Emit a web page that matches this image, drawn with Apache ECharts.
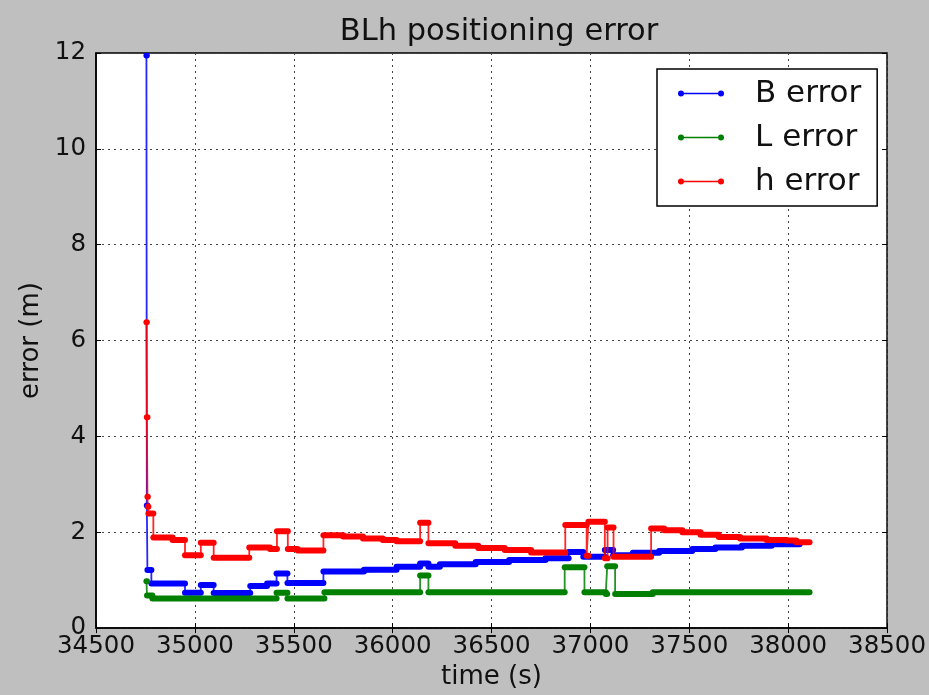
<!DOCTYPE html>
<html>
<head>
<meta charset="utf-8">
<script src="https://cdn.jsdelivr.net/npm/echarts@6/dist/echarts.min.js"></script>
<style>
html,body{margin:0;padding:0;background:#bfbfbf;}
#chart{width:929px;height:695px;}
</style>
</head>
<body>
<div id="chart"></div>
<script>
// ---- data: [time (s), error (m)] breakpoints; each value holds until the next time ----
const bError = [
  [34755, 11.95], [34757, 2.56], [34760, 1.21], [34780, 0.93], [34950, 0.74],
  [35030, 0.90], [35095, 0.73], [35280, 0.88], [35365, 0.93], [35413, 1.14],
  [35468, 0.94], [35650, 1.18], [35855, 1.22], [36020, 1.28], [36139, 1.35],
  [36181, 1.28], [36239, 1.33], [36420, 1.38], [36589, 1.42], [36773, 1.46],
  [36890, 1.59], [36964, 1.49], [37073, 1.63], [37115, 1.52], [37215, 1.57],
  [37348, 1.61], [37515, 1.65], [37632, 1.68], [37766, 1.72], [37916, 1.75],
  [38058, 1.75]
];
const lError = [
  [34755, 0.98], [34758, 0.68], [34785, 0.62], [35413, 0.74], [35468, 0.62],
  [35655, 0.75], [36139, 1.10], [36181, 0.75], [36870, 1.27], [36970, 0.75],
  [37078, 0.71], [37085, 1.29], [37125, 0.71], [37315, 0.75], [38108, 0.75]
];
const hError = [
  [34755, 6.38], [34757, 4.40], [34760, 2.74], [34762, 2.53], [34765, 2.39],
  [34790, 1.89], [34887, 1.84], [34950, 1.52], [35030, 1.78], [35095, 1.47],
  [35275, 1.68], [35380, 1.65], [35415, 2.02], [35470, 1.65], [35520, 1.62],
  [35650, 1.94], [35750, 1.91], [35850, 1.87], [35950, 1.84], [36020, 1.81],
  [36139, 2.20], [36181, 1.77], [36317, 1.72], [36433, 1.67], [36567, 1.63],
  [36700, 1.58], [36873, 2.15], [36981, 1.51], [36990, 2.22], [37073, 1.46],
  [37087, 2.10], [37117, 1.49], [37307, 2.08], [37373, 2.04], [37465, 2.00],
  [37557, 1.95], [37649, 1.90], [37757, 1.87], [37891, 1.84], [37991, 1.83],
  [38041, 1.79], [38108, 1.79]
];
const seriesNames = ['B error', 'L error', 'h error'];
const seriesColors = ['#0000ff', '#008000', '#ff0000'];
const xTicks = {min: 34500, max: 38500, interval: 500};
const yTicks = {min: 0, max: 12, interval: 2};

// plateaus [t0, t1, value] derived from breakpoints
function plateaus(arr) {
  const out = [];
  for (let i = 0; i < arr.length - 1; i++) out.push([arr[i][0], arr[i + 1][0], arr[i][1]]);
  return out;
}

const allData = [bError, lError, hError];
const FONT = 'DejaVu Sans';
const TXT = '#111';
const chart = echarts.init(document.getElementById('chart'), null, {renderer: 'canvas'});

const series = [];
allData.forEach((d, i) => {
  series.push({
    name: seriesNames[i],
    type: 'line',
    step: 'end',
    data: d,
    showSymbol: false,
    symbol: 'none',
    lineStyle: {color: seriesColors[i], width: 1.8, opacity: 0.85},
    itemStyle: {color: seriesColors[i]},
    z: 2 + i * 2,
    clip: true,
    animation: false
  });
  const col = seriesColors[i];
  series.push({
    name: seriesNames[i] + ' pts',
    type: 'custom',
    data: plateaus(d),
    encode: {x: [0, 1], y: 2},
    clip: true,
    z: 3 + i * 2,
    animation: false,
    renderItem: function (params, api) {
      const p0 = api.coord([api.value(0), api.value(2)]);
      const p1 = api.coord([api.value(1), api.value(2)]);
      return {
        type: 'rect',
        shape: {x: p0[0] - 3, y: p0[1] - 3, width: p1[0] - p0[0] + 6, height: 6, r: 3},
        style: {fill: col}
      };
    }
  });
});

const legendIcon = 'path://M0,4.2 L46,4.2 L46,5.8 L0,5.8 Z M3,2 A3,3 0 1,1 3,8 A3,3 0 1,1 3,2 Z M43,2 A3,3 0 1,1 43,8 A3,3 0 1,1 43,2 Z';

const option = {
  backgroundColor: '#bfbfbf',
  animation: false,
  title: {
    text: 'BLh positioning error',
    left: 494,
    textAlign: 'center',
    top: 12,
    textStyle: {fontFamily: FONT, fontSize: 30.5, fontWeight: 'normal', color: TXT}
  },
  legend: {
    data: seriesNames.map(n => ({name: n, icon: legendIcon})),
    orient: 'vertical',
    left: 657,
    top: 69,
    width: 223,
    padding: [9, 16, 9, 21],
    itemGap: 13,
    itemWidth: 46,
    itemHeight: 6,
    backgroundColor: '#ffffff',
    borderColor: '#000000',
    borderWidth: 1.5,
    borderRadius: 0,
    textStyle: {fontFamily: FONT, fontSize: 31, color: TXT, lineHeight: 31, padding: [0, 0, 0, 26]}
  },
  grid: {
    left: 96, right: 34, top: 53, bottom: 65,
    show: true, backgroundColor: '#ffffff', borderColor: '#000', borderWidth: 1.5
  },
  xAxis: [{
    type: 'value',
    min: xTicks.min, max: xTicks.max, interval: xTicks.interval,
    name: 'time (s)',
    nameLocation: 'middle',
    nameGap: 33,
    nameTextStyle: {fontFamily: FONT, fontSize: 26, color: TXT},
    axisLine: {show: true, lineStyle: {color: '#000', width: 1.5}},
    axisTick: {show: true, inside: true, length: 5, lineStyle: {color: '#000'}},
    axisLabel: {fontFamily: FONT, fontSize: 24.5, color: TXT, margin: 6, showMinLabel: true, showMaxLabel: true,
                formatter: v => String(v)},
    splitLine: {show: true, lineStyle: {color: '#444', width: 1, type: [2, 4]}}
  }, {
    type: 'value', position: 'top',
    min: xTicks.min, max: xTicks.max, interval: xTicks.interval,
    axisLine: {show: false},
    axisTick: {show: true, inside: true, length: 5, lineStyle: {color: '#000'}},
    axisLabel: {show: false},
    splitLine: {show: false}
  }],
  yAxis: [{
    type: 'value',
    min: yTicks.min, max: yTicks.max, interval: yTicks.interval,
    name: 'error (m)',
    nameLocation: 'middle',
    nameGap: 50,
    nameRotate: 90,
    nameTextStyle: {fontFamily: FONT, fontSize: 26, color: TXT},
    axisLine: {show: true, lineStyle: {color: '#000', width: 1.5}},
    axisTick: {show: true, inside: true, length: 5, lineStyle: {color: '#000'}},
    axisLabel: {fontFamily: FONT, fontSize: 24.5, color: TXT, margin: 10, formatter: v => String(v)},
    splitLine: {show: true, lineStyle: {color: '#444', width: 1, type: [2, 4]}}
  }, {
    type: 'value', position: 'right',
    min: yTicks.min, max: yTicks.max, interval: yTicks.interval,
    axisLine: {show: false},
    axisTick: {show: true, inside: true, length: 5, lineStyle: {color: '#000'}},
    axisLabel: {show: false},
    splitLine: {show: false}
  }],
  series: series
};
chart.setOption(option);
</script>
</body>
</html>
